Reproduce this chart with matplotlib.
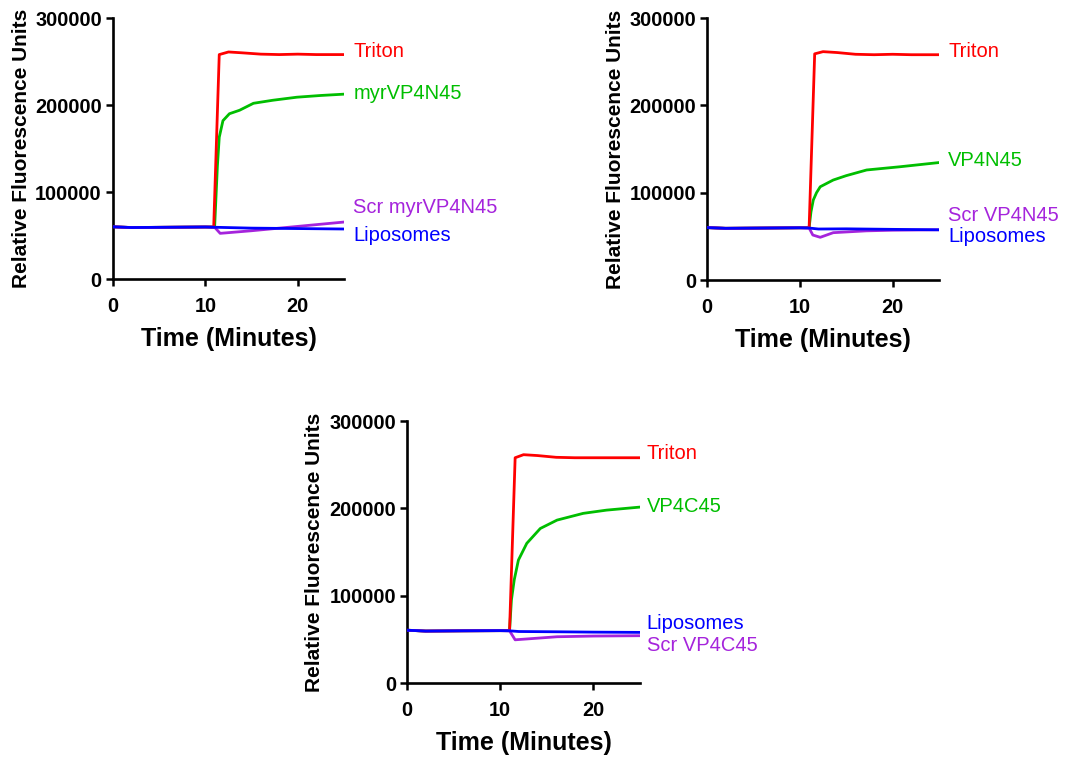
"""
plot.py — Liposome dye-release traces for three peptide panels.

Redraws the three fluorescence-vs-time panels (myrVP4N45, VP4N45, VP4C45)
and saves them to out.png.
"""
import matplotlib
matplotlib.use("Agg")
import matplotlib.pyplot as plt

plt.rcParams["font.family"] = ["Liberation Sans", "DejaVu Sans"]

# ── Data ──────────────────────────────────────────────────────────────────────

# Panel A: myrVP4N45
a_triton_t = [0, 2, 6, 10, 10.9, 11.5, 12.5, 14, 16, 18, 20, 22, 25]
a_triton_v = [60000, 59200, 59500, 59800, 59800, 258000, 261000, 260000,
              258500, 258000, 258500, 258000, 258000]
a_pep_t = [0, 2, 6, 10, 11.0, 11.3, 11.5, 11.9, 12.6, 13.7, 15.2, 17.3,
           19.9, 22.5, 25]
a_pep_v = [60000, 59200, 59500, 59800, 59800, 130000, 163000, 182000,
           190000, 194000, 202000, 205500, 209000, 211000, 212500]
a_scr_t = [0, 2, 6, 10, 11.0, 11.6, 15, 20, 25]
a_scr_v = [60000, 59200, 59500, 59800, 59500, 52500, 55500, 60500, 65500]
a_lipo_t = [0, 2, 6, 10, 11, 15, 20, 25]
a_lipo_v = [60000, 59200, 59500, 59800, 59500, 58500, 58000, 57500]

# Panel B: VP4N45
b_triton_t = [0, 2, 6, 10, 11.0, 11.6, 12.5, 14, 16, 18, 20, 22, 25]
b_triton_v = [60000, 59200, 59500, 59800, 59800, 259000, 261500, 260500,
              258500, 258000, 258500, 258000, 258000]
b_pep_t = [0, 2, 6, 10, 11.0, 11.2, 11.45, 11.8, 12.2, 13.6, 15.0, 17.2,
           20.8, 25]
b_pep_v = [60000, 59200, 59500, 59800, 60000, 78000, 91600, 100000,
           106800, 114500, 119500, 126000, 129700, 134500]
b_scr_t = [0, 2, 6, 10, 11.0, 11.4, 12.2, 13.6, 17.2, 20, 25]
b_scr_v = [60000, 59200, 59500, 59800, 59500, 51500, 48900, 54200, 56300,
           57000, 57500]
b_lipo_t = [0, 2, 6, 10, 11, 12, 15, 20, 25]
b_lipo_v = [60000, 59200, 59500, 59800, 59500, 58400, 58600, 58000, 57500]

# Panel C: VP4C45
c_triton_t = [0, 2, 6, 10, 11.0, 11.6, 12.5, 14, 16, 18, 20, 22, 25]
c_triton_v = [60500, 59500, 59800, 60000, 60000, 258000, 261500, 260500,
              258500, 258000, 258000, 258000, 258000]
c_pep_t = [0, 2, 6, 10, 11.0, 11.2, 11.5, 11.95, 12.85, 14.3, 16.1, 18.9,
           21.4, 25]
c_pep_v = [60500, 59500, 59800, 60000, 60000, 95000, 118000, 140800,
           160000, 177000, 186600, 194300, 198000, 201500]
c_scr_t = [0, 2, 6, 10, 11.0, 11.6, 16.1, 20, 25]
c_scr_v = [60500, 59500, 59800, 60000, 59800, 49500, 53000, 53800, 54200]
c_lipo_t = [0, 2, 6, 10, 11, 12, 16, 20, 25]
c_lipo_v = [60500, 59500, 59800, 60000, 59800, 59000, 58700, 58300, 58000]

# Curve labels and where they sit (y in data units, at the right of each axis)
a_labels = ["Triton", "myrVP4N45", "Scr myrVP4N45", "Liposomes"]
a_label_y = [262000, 213000, 82500, 50500]
b_labels = ["Triton", "VP4N45", "Scr VP4N45", "Liposomes"]
b_label_y = [262000, 137000, 74000, 50000]
c_labels = ["Triton", "VP4C45", "Liposomes", "Scr VP4C45"]
c_label_y = [263000, 202500, 68000, 43500]

y_ticks = [0, 100000, 200000, 300000]
x_ticks = [0, 10, 20]

# ── Style ─────────────────────────────────────────────────────────────────────
RED = "#FF0000"
GREEN = "#00BE00"
PURPLE = "#A524DC"
BLUE = "#0000FF"


def draw_panel(ax, series, labels, label_y, label_colors, label_x):
    """Plot four traces on ax and tag each with a coloured label."""
    for t, v, color, z in series:
        ax.plot(t, v, color=color, lw=2.0, solid_joinstyle="round",
                zorder=z)

    for text, y, color in zip(labels, label_y, label_colors):
        ax.text(label_x, y, text, color=color, fontsize=14.5,
                ha="left", va="center", clip_on=False)

    ax.set_xlim(0, 25)
    ax.set_ylim(0, 300000)
    ax.set_xticks(x_ticks)
    ax.set_yticks(y_ticks)
    ax.tick_params(direction="out", length=5, width=1.8, labelsize=14.4)
    ax.tick_params(axis="y", pad=3)
    ax.tick_params(axis="x", pad=8)
    for lab in ax.get_xticklabels() + ax.get_yticklabels():
        lab.set_fontweight("bold")

    for side in ("top", "right"):
        ax.spines[side].set_visible(False)
    for side in ("left", "bottom"):
        ax.spines[side].set_linewidth(1.9)

    ax.set_xlabel("Time (Minutes)", fontsize=18, fontweight="bold")
    ax.set_ylabel("Relative Fluorescence Units", fontsize=15,
                  fontweight="bold")
    ax.xaxis.set_label_coords(0.5, -0.185)
    ax.yaxis.set_label_coords(-0.355, 0.5)


# ── Figure ────────────────────────────────────────────────────────────────────
fig = plt.figure(figsize=(10.76, 7.58), dpi=100)

ax_a = fig.add_axes([0.1050, 0.6319, 0.2147, 0.3443])
ax_b = fig.add_axes([0.6571, 0.6306, 0.2156, 0.3456])
ax_c = fig.add_axes([0.3783, 0.0989, 0.2165, 0.3456])

draw_panel(
    ax_a,
    [(a_lipo_t, a_lipo_v, BLUE, 4), (a_scr_t, a_scr_v, PURPLE, 3),
     (a_pep_t, a_pep_v, GREEN, 1), (a_triton_t, a_triton_v, RED, 2)],
    a_labels, a_label_y, [RED, GREEN, PURPLE, BLUE], 26.0,
)
draw_panel(
    ax_b,
    [(b_scr_t, b_scr_v, PURPLE, 3), (b_lipo_t, b_lipo_v, BLUE, 4),
     (b_pep_t, b_pep_v, GREEN, 1), (b_triton_t, b_triton_v, RED, 2)],
    b_labels, b_label_y, [RED, GREEN, PURPLE, BLUE], 26.0,
)
draw_panel(
    ax_c,
    [(c_scr_t, c_scr_v, PURPLE, 3), (c_lipo_t, c_lipo_v, BLUE, 4),
     (c_pep_t, c_pep_v, GREEN, 1), (c_triton_t, c_triton_v, RED, 2)],
    c_labels, c_label_y, [RED, GREEN, BLUE, PURPLE], 25.7,
)

fig.savefig("out.png", dpi=100)
plt.close(fig)
